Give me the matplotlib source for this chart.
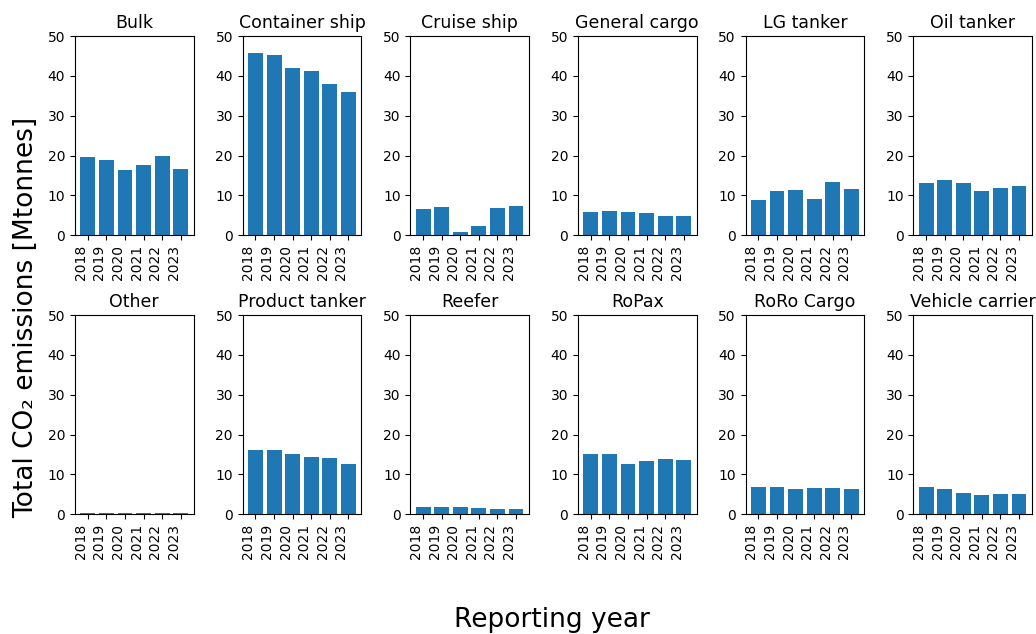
import matplotlib

matplotlib.use("Agg")
import matplotlib.pyplot as plt

years = ["2018", "2019", "2020", "2021", "2022", "2023"]
ship_types = [
    "Bulk", "Container ship", "Cruise ship", "General cargo", "LG tanker", "Oil tanker",
    "Other", "Product tanker", "Reefer", "RoPax", "RoRo Cargo", "Vehicle carrier",
]

# Total CO2 per ship type and reporting year [Mtonnes]
bulk = [19.7, 18.9, 16.3, 17.6, 20.0, 16.5]
container_ship = [45.8, 45.3, 42.0, 41.3, 38.1, 36.0]
cruise_ship = [6.5, 7.0, 0.9, 2.2, 6.8, 7.3]
general_cargo = [5.7, 6.0, 5.7, 5.5, 4.9, 4.9]
lg_tanker = [8.9, 11.0, 11.3, 9.1, 13.4, 11.7]
oil_tanker = [13.2, 13.9, 13.2, 11.1, 11.8, 12.4]
other = [0.3, 0.3, 0.3, 0.3, 0.3, 0.3]
product_tanker = [16.0, 16.0, 15.2, 14.4, 14.1, 12.6]
reefer = [1.8, 1.8, 1.8, 1.5, 1.25, 1.25]
ropax = [15.0, 15.2, 12.7, 13.4, 13.9, 13.7]
roro_cargo = [6.8, 6.8, 6.25, 6.5, 6.5, 6.25]
vehicle_carrier = [6.8, 6.25, 5.25, 4.7, 5.0, 5.0]

emissions = [
    bulk, container_ship, cruise_ship, general_cargo, lg_tanker, oil_tanker,
    other, product_tanker, reefer, ropax, roro_cargo, vehicle_carrier,
]

fig, axes = plt.subplots(2, 6, figsize=(10.36, 6.34), dpi=100)
fig.subplots_adjust(left=0.0724, right=0.996, top=0.943, bottom=0.189,
                     wspace=0.414, hspace=0.402)

x = list(range(len(years)))
for ax, name, vals in zip(axes.flat, ship_types, emissions):
    ax.bar(x, vals, color="#1f77b4")
    ax.set_title(name, fontsize=12.5)
    ax.set_ylim(0, 50)
    ax.set_xticks(x)
    ax.set_xticklabels(years, rotation=90, ha="right")

fig.text(0.0251, 0.5, "Total CO₂ emissions [Mtonnes]", rotation=90,
         fontsize=19, ha="center", va="center")
fig.text(0.533, 0.022, "Reporting year", fontsize=19, ha="center", va="center")

fig.savefig("out.png")
